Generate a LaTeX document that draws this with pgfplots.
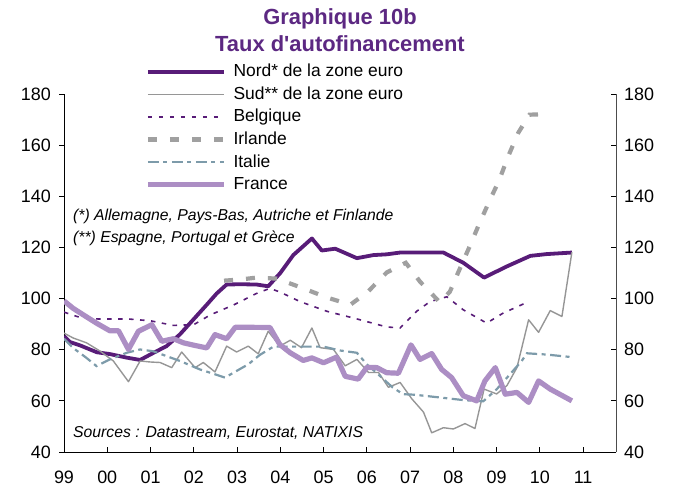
\documentclass[border=0pt]{standalone}
\usepackage{pgfplots}
\pgfplotsset{compat=1.18}
\usepackage{fontspec}
\setmainfont{Liberation Sans}

\definecolor{nord}{RGB}{88,28,120}
\definecolor{sud}{RGB}{150,150,150}
\definecolor{irl}{RGB}{160,160,160}
\definecolor{ita}{RGB}{125,155,170}
\definecolor{fra}{RGB}{172,142,196}
\definecolor{titre}{RGB}{92,40,130}

\begin{document}
\begin{tikzpicture}
\useasboundingbox (0,0) rectangle (681bp,495bp);

% axe principal : donnees + axe gauche + axe du bas
\begin{axis}[
    at={(64bp,43bp)}, anchor=south west,
    scale only axis, width=552bp, height=358bp,
    xmin=1999, xmax=2011.76, ymin=40, ymax=180,
    axis x line*=bottom, axis y line*=left,
    axis line style={-, black, line width=0.8bp},
    xtick={1999,...,2011},
    xticklabels={99,00,01,02,03,04,05,06,07,08,09,10,11},
    x tick style={black, line width=0.8bp},
    xtick align=inside, major tick length=5bp,
    ytick={40,60,...,180},
    ytick align=outside,
    y tick style={black, line width=0.8bp},
    /pgf/number format/assume math mode=true,
    ticklabel style={font=\fontsize{18}{20}\selectfont},
    xticklabel style={inner sep=0pt, anchor=north, yshift=-19bp},
    yticklabel style={inner sep=0pt, xshift=-8bp},
    legend cell align=left,
    legend image code/.code={\draw[#1] (0bp,0bp) -- (76bp,0bp);},
    legend style={draw=none, fill=none, inner sep=0pt,
        at={(0.147,1.085)}, anchor=north west,
        column sep=7bp, row sep=6.6bp,
        font=\fontsize{17.5}{19}\selectfont,
        nodes={inner sep=0pt, text height=13bp, text depth=3bp}},
]

\addplot[nord, line width=3.8bp, line join=round] coordinates {
(1999.0,85.3) (1999.14,83) (1999.37,81.7) (1999.76,79) (2000.06,78.3)
(2000.45,76.9) (2000.76,76) (2001.06,78.7) (2001.37,81.4) (2001.68,86)
(2001.99,91.8) (2002.3,97.6) (2002.53,102) (2002.76,105.5) (2003.07,105.6)
(2003.45,105.5) (2003.72,104.8) (2004.0,110) (2004.3,117) (2004.73,123.5)
(2004.96,118.8) (2005.27,119.5) (2005.77,115.8) (2006.15,117) (2006.46,117.3)
(2006.77,118) (2007.0,118) (2007.77,118) (2008.23,114) (2008.71,108.2)
(2009.24,112.6) (2009.78,116.7) (2010.16,117.4) (2010.74,118)
};
\addlegendentry{Nord* de la zone euro}

\addplot[sud, line width=1.4bp, line join=round] coordinates {
(1999.0,86.5) (1999.21,84.6) (1999.52,82.7) (1999.83,79.5) (2000.14,75.6)
(2000.49,67.5) (2000.76,75.6) (2000.99,75.2) (2001.22,75) (2001.49,73)
(2001.72,79.1) (2002.03,73) (2002.22,75) (2002.49,71.3) (2002.76,81.4)
(2002.99,79.1) (2003.26,81.4) (2003.49,78.4) (2003.72,87.2) (2003.99,81.4)
(2004.23,83.7) (2004.49,80.8) (2004.73,88.5) (2004.92,80.8) (2005.23,80.1)
(2005.5,73.7) (2005.77,76.2) (2006.04,71.1) (2006.27,71.1) (2006.5,65.3)
(2006.77,67.2) (2007.04,60.8) (2007.31,55.6) (2007.5,47.5) (2007.77,49.5)
(2008.0,49) (2008.27,51.1) (2008.5,49.2) (2008.71,64.6) (2009.0,62.7)
(2009.24,66) (2009.47,73) (2009.74,91.7) (2009.97,86.8) (2010.24,95.3)
(2010.51,93) (2010.74,118.1)
};
\addlegendentry{Sud** de la zone euro}

\addplot[nord, line width=1.6bp, dash pattern=on 4.5bp off 6.5bp] coordinates {
(1999.0,94.7) (1999.37,92.6) (1999.8,92) (2000.5,92) (2001.0,91.3)
(2001.53,89.5) (2002.0,89.8) (2002.38,93.6) (2002.92,97.5) (2003.45,102)
(2003.76,104) (2004.0,102.5) (2004.46,98.8) (2005.08,95) (2005.69,92.4)
(2006.46,88.9) (2006.77,88.5) (2007.15,95) (2007.46,98.8) (2007.85,100.7)
(2008.23,95.6) (2008.77,90.4) (2009.15,94.3) (2009.66,98.2)
};
\addlegendentry{Belgique}

\addplot[irl, line width=4.2bp, dash pattern=on 9bp off 13bp] coordinates {
(2002.7,107) (2003.1,107.5) (2003.45,108.2) (2003.92,107.8) (2004.5,104.2)
(2005.08,100.4) (2005.62,97.6) (2006.02,102.6) (2006.46,110.2) (2006.9,114)
(2007.23,106.6) (2007.69,98.5) (2007.92,102.7) (2008.15,111.7) (2008.38,120.5)
(2008.6,129.3) (2008.83,138) (2009.06,146.3) (2009.27,155.7) (2009.5,164.8)
(2009.76,171.9) (2010.24,172.2)
};
\addlegendentry{Irlande}

\addplot[ita, line width=2.2bp, dash pattern=on 11bp off 4.5bp on 4bp off 4.5bp] coordinates {
(1999.0,84.3) (1999.21,80.7) (1999.52,76.8) (1999.75,73.6) (2000.06,76.2)
(2000.45,78.8) (2000.76,80.1) (2001.06,79.4) (2001.37,77.5) (2001.68,75.6)
(2002.14,72.3) (2002.49,70.4) (2002.72,69.1) (2002.99,71.7) (2003.26,74.3)
(2003.53,78) (2003.84,81.2) (2005.0,81.2) (2005.38,79.7) (2005.77,78.8)
(2006.0,74.3) (2006.3,69.8) (2006.6,65.2) (2006.84,62.6) (2007.1,62.4)
(2007.7,61.3) (2008.23,60.3) (2008.69,59.8) (2009.0,64.5) (2009.31,70.4)
(2009.58,75.6) (2009.7,78.6) (2010.16,78.1) (2010.74,77.1)
};
\addlegendentry{Italie}

\addplot[fra, line width=5.2bp, line join=round] coordinates {
(1999.0,99.1) (1999.21,96.2) (1999.45,93.6) (1999.75,90.4) (2000.06,87.4)
(2000.26,87.4) (2000.49,80.1) (2000.72,87.2) (2001.03,89.8) (2001.26,83.3)
(2001.53,84.3) (2001.76,82.7) (2001.99,81.8) (2002.3,80.7) (2002.49,85.9)
(2002.76,84.3) (2002.96,88.8) (2003.76,88.7) (2003.99,82) (2004.23,78.8)
(2004.53,75.8) (2004.73,76.8) (2005.0,74.9) (2005.3,77.1) (2005.5,69.6)
(2005.8,68.5) (2006.0,73.1) (2006.23,73) (2006.46,71) (2006.73,70.8)
(2007.02,81.9) (2007.23,76.2) (2007.5,78.5) (2007.73,72.3) (2007.96,69.1)
(2008.23,62) (2008.54,60) (2008.73,67.8) (2008.97,73) (2009.2,62.6)
(2009.47,63.3) (2009.74,59.4) (2009.97,67.8) (2010.24,64.6) (2010.74,60)
};
\addlegendentry{France}
\end{axis}

% axe de droite
\begin{axis}[
    at={(64bp,43bp)}, anchor=south west,
    scale only axis, width=552bp, height=358bp,
    xmin=1999, xmax=2011.76, ymin=40, ymax=180,
    axis x line=none, axis y line*=right,
    axis line style={-, black!70, line width=0.8bp},
    ytick={40,60,...,180},
    ytick align=inside, major tick length=5bp,
    y tick style={black, line width=0.8bp},
    /pgf/number format/assume math mode=true,
    ticklabel style={font=\fontsize{18}{20}\selectfont},
    yticklabel style={inner sep=0pt, xshift=8bp},
]
\end{axis}

% titre
\node[anchor=base, text=titre, font=\fontsize{22}{26}\selectfont\bfseries]
  at (340bp,470bp) {Graphique 10b};
\node[anchor=base, text=titre, font=\fontsize{22}{26}\selectfont\bfseries]
  at (340bp,443bp) {Taux d\textquotesingle autofinancement};

% notes
\node[anchor=base west, inner sep=0pt, font=\fontsize{15.8}{18}\selectfont\itshape]
  at (73bp,274bp) {(*) Allemagne, Pays-Bas, Autriche et Finlande};
\node[anchor=base west, inner sep=0pt, font=\fontsize{15.8}{18}\selectfont\itshape]
  at (73bp,252bp) {(**) Espagne, Portugal et Grèce};
\node[anchor=base west, inner sep=0pt, font=\fontsize{15.8}{18}\selectfont\itshape]
  at (73bp,57bp) {Sources : Datastream, Eurostat, NATIXIS};
\end{tikzpicture}
\end{document}
